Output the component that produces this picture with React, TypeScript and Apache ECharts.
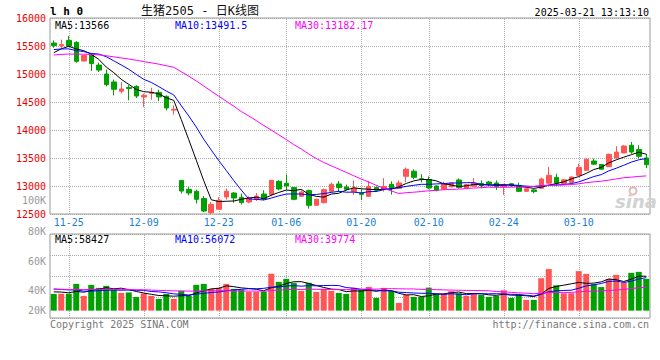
import React, { useEffect, useRef } from 'react';
import * as echarts from 'echarts';

// ---------- data ----------
const dates = [
  '11-21','11-22','11-25','11-26','11-27','11-28','11-29','12-02','12-03','12-04',
  '12-05','12-06','12-09','12-10','12-11','12-12','12-13','12-16','12-17','12-18',
  '12-19','12-20','12-23','12-24','12-25','12-26','12-27','12-30','12-31','01-02',
  '01-03','01-06','01-07','01-08','01-09','01-10','01-13','01-14','01-15','01-16',
  '01-17','01-20','01-21','01-22','01-23','01-24','01-27','02-05','02-06','02-07',
  '02-10','02-11','02-12','02-13','02-14','02-17','02-18','02-19','02-20','02-21',
  '02-24','02-25','02-26','02-27','02-28','03-03','03-04','03-05','03-06','03-07',
  '03-10','03-11','03-12','03-13','03-14','03-17','03-18','03-19','03-20','03-21',
];

// [open, close, low, high]
const candles: number[][] = [
  [15553,15507,15470,15600],[15505,15525,15464,15614],[15600,15500,15495,15680],[15566,15226,15203,15584],
  [15232,15329,15225,15335],[15346,15186,15055,15375],[15160,15070,15036,15204],[15000,14810,14780,15080],
  [14857,14727,14620,14900],[14692,14732,14650,14855],[14760,14740,14530,14800],[14780,14607,14571,14798],
  [14590,14620,14410,14650],[14655,14670,14540,14755],[14670,14590,14515,14720],[14600,14393,14350,14620],
  [14355,14370,14275,14440],[13100,12910,12865,13100],[12940,12875,12835,12980],[12905,12762,12686,12935],
  [12775,12553,12535,12820],[12525,12673,12500,12715],[12585,12745,12580,12800],[12805,12905,12757,12955],
  [12875,12786,12700,12893],[12798,12703,12668,12864],[12714,12786,12691,12816],[12762,12821,12732,12875],
  [12857,12768,12745,12923],[12846,13102,12816,13105],[13084,12946,12923,13102],[13048,13000,12930,13205],
  [12971,12762,12745,12982],[12816,12893,12804,12923],[12918,12655,12596,12935],[12655,12762,12650,12775],
  [12703,12935,12686,12953],[12905,13030,12900,13060],[13036,12971,12893,13089],[12982,12941,12920,13025],
  [12900,12960,12840,13100],[12875,12850,12750,12940],[12816,12990,12805,13090],[12975,12925,12895,12990],
  [12940,12990,12900,13140],[13030,12960,12846,13084],[12960,13054,12955,13100],[13173,13298,13065,13330],
  [13265,13155,13120,13298],[13130,13115,13065,13210],[13115,12964,12941,13170],[13000,12923,12905,13010],
  [12945,13040,12935,13075],[12985,13050,12975,13060],[13108,12975,12955,13135],[12965,13025,12955,13030],
  [12995,13050,12990,13140],[13045,13010,12960,13100],[13071,13036,13000,13090],[13054,12995,12930,13100],
  [12990,13020,12840,13040],[13040,13015,12985,13050],[13012,12905,12893,13060],[12905,12950,12895,12955],
  [12930,12900,12870,12945],[12960,13125,12950,13150],[13050,13190,13040,13340],[13155,13050,13000,13220],
  [13045,13110,13035,13125],[13065,13160,13050,13170],[13190,13330,13185,13400],[13280,13477,13270,13490],
  [13446,13390,13380,13490],[13385,13300,13295,13390],[13345,13565,13340,13580],[13500,13605,13495,13710],
  [13590,13714,13585,13730],[13727,13607,13575,13786],[13650,13530,13490,13727],[13500,13380,13320,13575],
];

const volumes = [
  28400,28700,28600,45400,25000,43700,38600,42000,36000,30100,
  30900,23300,29200,25000,19900,28400,19900,33500,25000,43700,
  45400,36900,38600,45400,36900,35200,31800,31800,32600,62600,
  48800,53900,47100,33500,47100,31800,36900,33500,30100,28400,
  38600,35200,40300,21600,38600,33500,13100,26700,23300,23300,
  39000,28000,28400,33000,29500,25000,29500,26700,23300,25000,
  34500,21600,26700,18200,18200,55000,70500,43000,29500,29500,
  67000,62400,45000,40000,53900,60700,47600,64100,65800,53900,
];

// closes / volumes of the 29 sessions before the window (estimated from the MA lines)
const priorCloses = [
  15240,15300,15280,15350,15320,15260,15330,15290,15340,15310,15270,15320,15332,
  15300,15250,15220,15260,15290,15270,15308,
  15420,15480,15530,15510,15520,
  15175,15280,15460,15478,
];
const priorVolumes = [
  34000,38000,36500,38000,33000,35500,37000,39500,32000,36000,38500,34500,37500,35000,
  38600,33500,36800,35200,38200,34800,36400,36300,
  45000,46200,44000,
  30000,35000,33600,32000,
];

const tickDates = ['11-25','12-09','12-23','01-06','01-20','02-10','02-24','03-10'];
const priceMaLabels = ['MA5:13566', 'MA10:13491.5', 'MA30:13182.17'];
const volumeMaLabels = ['MA5:58427', 'MA10:56072', 'MA30:39774'];
const volumeTickLabels = ['100K', '80K', '60K', '40K', '20K'];
const titleText = '生猪2505 - 日K线图';
const codeText = 'l h 0';
const timeText = '2025-03-21 13:13:10';
const copyrightText = 'Copyright 2025 SINA.COM';
const urlText = 'http://finance.sina.com.cn';

// ---------- layout / style ----------
const volumeTickY = [200, 231, 261, 290, 310];
const maColors = ['#000000', '#0000ff', '#ff00ff'];
const legendX = [55, 175, 295];
const UP = '#ff5555';
const DOWN = '#00a000';
const MONO = '"DejaVu Sans Mono", monospace';

function movingAverage(prior: number[], values: number[], n: number) {
  const all = prior.concat(values);
  return values.map((_, i) => {
    const end = prior.length + i;
    let s = 0;
    for (let k = end - n + 1; k <= end; k++) s += all[k];
    return +(s / n).toFixed(2);
  });
}

function text(x: number, y: number, t: string, fill: string, font: string, align = 'left') {
  return {
    type: 'text',
    x,
    y,
    silent: true,
    style: { text: t, fill, font, align, textAlign: align, verticalAlign: 'middle', textVerticalAlign: 'middle' },
  };
}

export default function App() {
  const ref = useRef<HTMLDivElement>(null);

  useEffect(() => {
    if (!ref.current) return;
    const chart = echarts.init(ref.current, undefined, { renderer: 'svg' });

    const closes = candles.map((c) => c[1]);
    const priceMA = [5, 10, 30].map((n) => movingAverage(priorCloses, closes, n));
    const volMA = [5, 10, 30].map((n) => movingAverage(priorVolumes, volumes, n));

    const gridDash = { color: '#aaaaaa', type: [1, 1] as any, width: 1 };
    const vLines = (xi: number, yi: number) => ({
      type: 'line',
      xAxisIndex: xi,
      yAxisIndex: yi,
      data: [],
      z: 1,
      silent: true,
      markLine: {
        silent: true,
        symbol: ['none', 'none'],
        label: { show: false },
        lineStyle: gridDash,
        data: tickDates.map((d) => ({ xAxis: d })),
      },
    });

    const maSeries = (data: number[], color: string, xi: number, yi: number) => ({
      type: 'line',
      data,
      xAxisIndex: xi,
      yAxisIndex: yi,
      symbol: 'none',
      showSymbol: false,
      z: 6,
      lineStyle: { color, width: 1 },
      itemStyle: { color },
      silent: true,
    });

    const graphics: any[] = [
      text(50, 11, codeText, '#000', `bold 11px ${MONO}`),
      text(200, 11, titleText, '#111', '12px "DejaVu Sans Mono", "Noto Sans CJK SC"', 'center'),
      text(649, 12, timeText, '#000', `10px ${MONO}`, 'right'),
      text(50, 324, copyrightText, '#777', `10px ${MONO}`),
      text(649, 324, urlText, '#777', `10px ${MONO}`, 'right'),
      { type: 'circle', silent: true, shape: { cx: 633, cy: 191, r: 3.5 }, style: { fill: 'none', stroke: '#e6b8b8', lineWidth: 2 } },
      text(636, 201, 'sina', '#d2d2d2', 'italic bold 18px "DejaVu Sans"', 'center'),
    ];
    priceMaLabels.forEach((t, i) => graphics.push(text(legendX[i], 25, t, maColors[i], `10px ${MONO}`)));
    volumeMaLabels.forEach((t, i) => graphics.push(text(legendX[i], 239, t, maColors[i], `10px ${MONO}`)));
    volumeTickLabels.forEach((t, i) => graphics.push(text(46, volumeTickY[i], t, '#999', `10px ${MONO}`, 'right')));

    chart.setOption({
      animation: false,
      backgroundColor: '#ffffff',
      grid: [
        { left: 50, top: 18, width: 600, height: 196, show: true, borderColor: '#999', borderWidth: 1, backgroundColor: 'transparent' },
        { left: 50, top: 234, width: 600, height: 84, show: true, borderColor: '#999', borderWidth: 1, backgroundColor: 'transparent' },
      ],
      xAxis: [
        {
          type: 'category',
          gridIndex: 0,
          data: dates,
          boundaryGap: true,
          axisLine: { show: false },
          axisTick: { show: false },
          splitLine: { show: false },
          axisLabel: {
            interval: (_: number, v: string) => tickDates.includes(v),
            color: '#1a7fd4',
            fontFamily: MONO,
            fontSize: 10,
            margin: 3,
          },
        },
        {
          type: 'category',
          gridIndex: 1,
          data: dates,
          boundaryGap: true,
          axisLine: { show: false },
          axisTick: { show: false },
          splitLine: { show: false },
          axisLabel: { show: false },
        },
      ],
      yAxis: [
        {
          type: 'value',
          gridIndex: 0,
          min: 12500,
          max: 16000,
          interval: 500,
          axisLine: { show: false },
          axisTick: { show: false },
          axisLabel: {
            color: '#ee0000',
            fontFamily: MONO,
            fontSize: 10,
            margin: 4,
            formatter: (v: number) => String(v),
          },
          splitLine: { show: true, lineStyle: gridDash },
        },
        {
          type: 'value',
          gridIndex: 1,
          min: -12500,
          max: 130000,
          axisLine: { show: false },
          axisTick: { show: false },
          axisLabel: { show: false },
          splitLine: { show: false },
        },
        {
          type: 'value',
          gridIndex: 1,
          min: 0,
          max: 4,
          interval: 1,
          axisLine: { show: false },
          axisTick: { show: false },
          axisLabel: { show: false },
          splitLine: { show: true, lineStyle: gridDash },
        },
      ],
      graphic: graphics,
      series: [
        vLines(0, 0),
        vLines(1, 1),
        {
          type: 'candlestick',
          xAxisIndex: 0,
          yAxisIndex: 0,
          data: candles,
          barWidth: 5,
          z: 5,
          silent: true,
          itemStyle: { color: UP, color0: DOWN, borderColor: UP, borderColor0: DOWN, borderWidth: 1 },
        },
        ...priceMA.map((d, i) => maSeries(d, maColors[i], 0, 0)),
        {
          type: 'bar',
          xAxisIndex: 1,
          yAxisIndex: 1,
          barWidth: 6,
          z: 5,
          silent: true,
          data: volumes.map((v, i) => ({
            value: v,
            itemStyle: { color: candles[i][1] >= candles[i][0] ? UP : DOWN },
          })),
        },
        ...volMA.map((d, i) => maSeries(d, maColors[i], 1, 1)),
      ],
    });

    return () => chart.dispose();
  }, []);

  return <div ref={ref} style={{ position: 'fixed', left: 0, top: 0, width: 660, height: 360 }} />;
}
